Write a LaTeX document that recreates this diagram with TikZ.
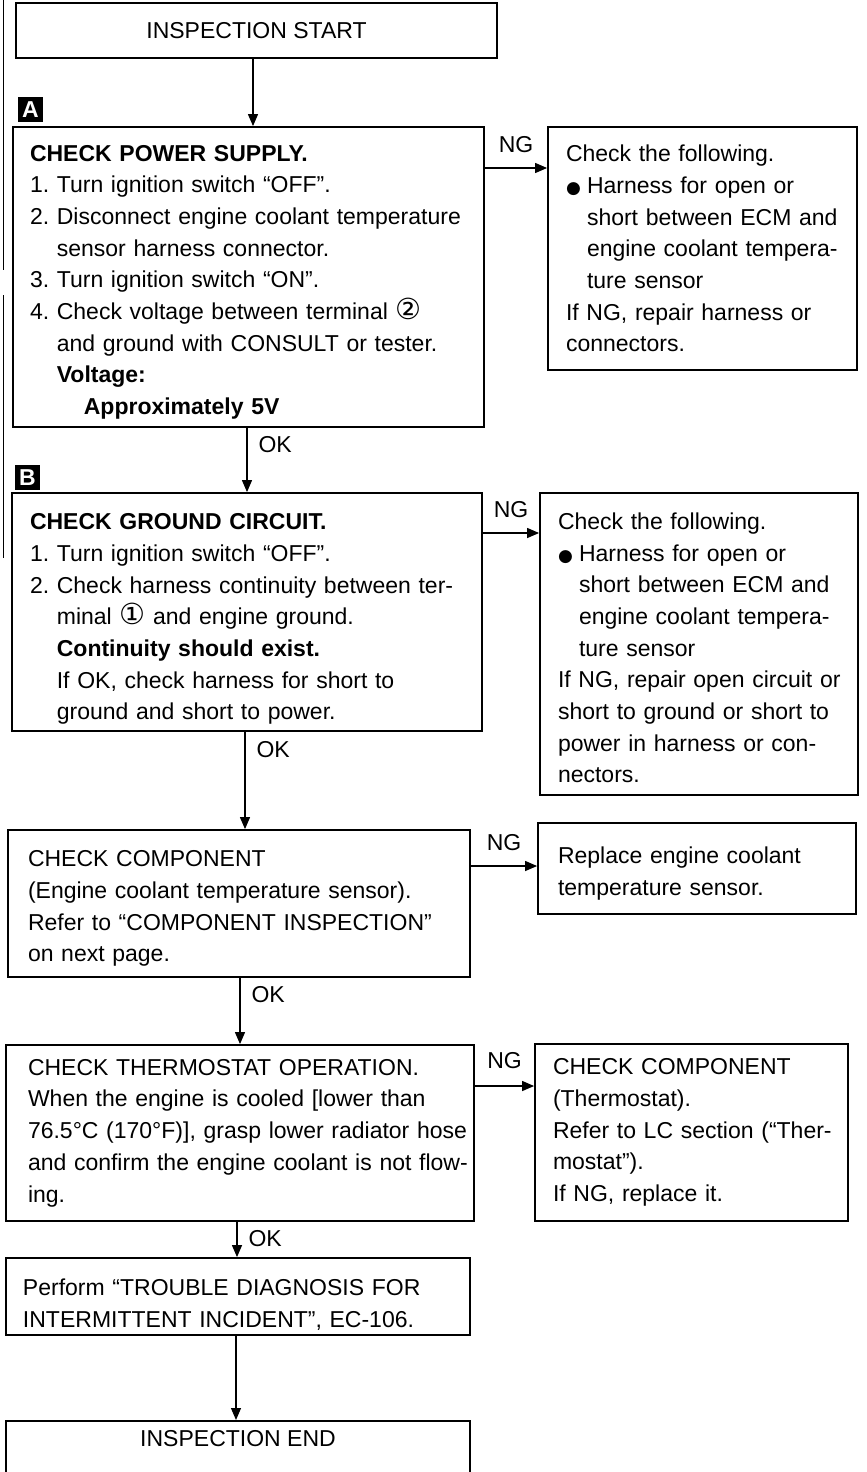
\documentclass[tikz,border=0pt]{standalone}
\usepackage{fontspec}
\setmainfont{Liberation Sans}
\newfontfamily\symfont{DejaVu Sans}
\usetikzlibrary{arrows.meta}
\frenchspacing
\newcommand{\bodyfont}{\fontsize{23}{31.7}\selectfont}
\newcommand{\bul}{\makebox[21pt][l]{\symfont\fontsize{17}{17}\selectfont ●}}
\newcommand{\ind}{\hspace*{21pt}}
\newcommand{\nind}{\phantom{2.\ }}
\newcommand{\trm}[1]{{\symfont\fontsize{29}{29}\selectfont #1}}
\newcommand{\tstrut}[1]{\rule{0pt}{#1pt}}

\begin{document}
\begin{tikzpicture}[x=1pt, y=1pt,
  stepbox/.style={draw, line width=1.8pt, align=left, inner ysep=0pt, font=\bodyfont},
  endbox/.style={draw, line width=1.8pt, align=center, font=\bodyfont},
  flow/.style={-{Triangle[length=12pt,width=10pt]}, line width=1.2pt},
  lbl/.style={inner sep=2pt, font=\bodyfont},
  marker/.style={fill=black, text=white, font=\bodyfont\bfseries, minimum size=25pt, inner sep=0pt}]
  \useasboundingbox (0,0) rectangle (867,-1472);
  \draw[line width=1pt] (3,0) -- (3,-270); \draw[line width=1pt] (3,-295) -- (3,-558);
  \node[endbox, minimum width=481pt, minimum height=55pt] (start) at (256.5,-30.5) {INSPECTION START};
  \node[marker] (mA) at (30.5,-109.5) {A}; \node[marker] (mB) at (27.5,-477.5) {B};
  \node[stepbox, text width=437pt, minimum height=300pt, inner xsep=17pt] (chkA) at (248.5,-277) {\tstrut{26.5}\textbf{CHECK POWER SUPPLY.}\\ 1. Turn ignition switch “OFF”.\\ \mbox{2. Disconnect engine coolant temperature}\\ \nind sensor harness connector.\\ 3. Turn ignition switch “ON”.\\ 4. Check voltage between terminal \trm{②}\\ \nind and ground with CONSULT or tester.\\ \nind\textbf{Voltage:}\\ \nind\hspace*{27pt}\textbf{Approximately 5V}};
  \node[stepbox, text width=273pt, minimum height=243pt, inner xsep=18pt] (ngA) at (702.5,-248.5) {Check the following.\\ \bul Harness for open or\\ \mbox{\ind short between ECM and}\\ \mbox{\ind engine coolant tempera-}\\ \ind ture sensor\\ If NG, repair harness or\\ connectors.};
  \node[stepbox, text width=434pt, minimum height=238pt, inner xsep=18pt] (chkB) at (247,-612) {\tstrut{30.5}\textbf{CHECK GROUND CIRCUIT.}\\ 1. Turn ignition switch “OFF”.\\ \mbox{2. Check harness continuity between ter-}\\ \nind minal \trm{①} and engine ground.\\ \nind\textbf{Continuity should exist.}\\ \nind If OK, check harness for short to\\ \nind ground and short to power.};
  \node[stepbox, text width=282pt, minimum height=302pt, inner xsep=18pt] (ngB) at (699,-644) {\tstrut{24.5}Check the following.\\ \bul Harness for open or\\ \mbox{\ind short between ECM and}\\ \mbox{\ind engine coolant tempera-}\\ \ind ture sensor\\ \mbox{If NG, repair open circuit or}\\ \mbox{short to ground or short to}\\ \mbox{power in harness or con-}\\ nectors.};
  \node[stepbox, text width=422pt, minimum height=147pt, inner xsep=20pt] (chkC) at (239,-903.5) {\tstrut{26.5}CHECK COMPONENT\\ \mbox{(Engine coolant temperature sensor).}\\ \mbox{Refer to “COMPONENT INSPECTION”}\\ on next page.};
  \node[stepbox, text width=278pt, minimum height=91pt, inner xsep=20pt] (ngC) at (697,-868.5) {\tstrut{26.5}Replace engine coolant\\ temperature sensor.};
  \node[stepbox, text width=424pt, minimum height=176pt, inner xsep=22pt] (chkD) at (240,-1133) {CHECK THERMOSTAT OPERATION.\\ \mbox{When the engine is cooled [lower than}\\ \mbox{76.5°C (170°F)], grasp lower radiator hose}\\ \mbox{and confirm the engine coolant is not flow-}\\ ing.};
  \node[stepbox, text width=277pt, minimum height=177pt, inner xsep=18pt] (ngD) at (691.5,-1132.5) {CHECK COMPONENT\\ (Thermostat).\\ \mbox{Refer to LC section (“Ther-}\\ mostat”).\\ If NG, replace it.};
  \node[stepbox, text width=430pt, minimum height=77pt, inner xsep=17pt] (perf) at (238,-1296.5) {\tstrut{32.5}Perform “TROUBLE DIAGNOSIS FOR\\ \mbox{INTERMITTENT INCIDENT”, EC-106.}};
  \node[endbox, minimum width=464pt, text depth=40pt, inner ysep=10pt, anchor=north] (fin) at (238,-1420) {INSPECTION END};
  \draw[flow] (253,0 |- start.south) -- (253,0 |- chkA.north);
  \draw[flow] (247,0 |- chkA.south) -- (247,0 |- chkB.north) node[lbl, pos=0, anchor=north west, xshift=9pt, yshift=-6pt]{OK};
  \draw[flow] (245,0 |- chkB.south) -- (245,0 |- chkC.north) node[lbl, pos=0, anchor=north west, xshift=9pt, yshift=-7pt]{OK};
  \draw[flow] (240,0 |- chkC.south) -- (240,0 |- chkD.north) node[lbl, pos=0, anchor=north west, xshift=9pt, yshift=-6pt]{OK};
  \draw[flow] (237,0 |- chkD.south) -- (237,0 |- perf.north) node[lbl, pos=0, anchor=north west, xshift=9pt, yshift=-6pt]{OK};
  \draw[flow] (236,0 |- perf.south) -- (236,0 |- fin.north);
  \draw[flow] (chkA.east |- 0,-168) -- (ngA.west |- 0,-168) node[lbl, midway, above=13pt]{NG};
  \draw[flow] (chkB.east |- 0,-533) -- (ngB.west |- 0,-533) node[lbl, midway, above=13pt]{NG};
  \draw[flow] (chkC.east |- 0,-866) -- (ngC.west |- 0,-866) node[lbl, midway, above=13pt]{NG};
  \draw[flow] (chkD.east |- 0,-1086) -- (ngD.west |- 0,-1086) node[lbl, midway, above=15pt]{NG};
\end{tikzpicture}
\end{document}
